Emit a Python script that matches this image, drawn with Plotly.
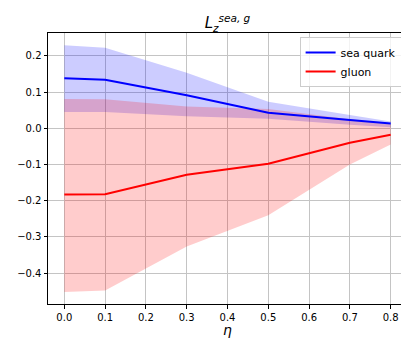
import plotly.graph_objects as go

# eta values where the curves were evaluated
eta = [0.0, 0.1, 0.3, 0.5, 0.7, 0.8]

# sea quark: central line plus band
sea_mid = [0.138, 0.134, 0.091, 0.043, 0.023, 0.013]
sea_hi = [0.229, 0.222, 0.153, 0.073, 0.037, 0.019]
sea_lo = [0.045, 0.045, 0.033, 0.026, 0.010, 0.003]

# gluon: central line plus band
glu_mid = [-0.183, -0.182, -0.128, -0.098, -0.040, -0.018]
glu_hi = [0.081, 0.080, 0.060, 0.053, 0.025, 0.012]
glu_lo = [-0.452, -0.448, -0.326, -0.240, -0.100, -0.045]

xticks = [0.0, 0.1, 0.2, 0.3, 0.4, 0.5, 0.6, 0.7, 0.8]
yticks = [-0.4, -0.3, -0.2, -0.1, 0.0, 0.1, 0.2]

fig = go.Figure()

# bands first, lines on top
fig.add_trace(go.Scatter(x=eta, y=sea_hi, mode="lines", line=dict(width=0),
                         showlegend=False, hoverinfo="skip"))
fig.add_trace(go.Scatter(x=eta, y=sea_lo, mode="lines", line=dict(width=0),
                         fill="tonexty", fillcolor="rgba(0,0,255,0.2)",
                         showlegend=False, hoverinfo="skip"))
fig.add_trace(go.Scatter(x=eta, y=glu_hi, mode="lines", line=dict(width=0),
                         showlegend=False, hoverinfo="skip"))
fig.add_trace(go.Scatter(x=eta, y=glu_lo, mode="lines", line=dict(width=0),
                         fill="tonexty", fillcolor="rgba(255,0,0,0.2)",
                         showlegend=False, hoverinfo="skip"))

fig.add_trace(go.Scatter(x=eta, y=sea_mid, mode="lines", name="sea quark",
                         line=dict(color="blue", width=2)))
fig.add_trace(go.Scatter(x=eta, y=glu_mid, mode="lines", name="gluon",
                         line=dict(color="red", width=2)))

axis_style = dict(showline=True, linecolor="black", linewidth=1, mirror=True,
                  ticks="outside", ticklen=3.5, tickcolor="black",
                  showgrid=True, gridcolor="#c4c4c4", gridwidth=1,
                  zeroline=False, tickfont=dict(size=10, color="black"))

fig.update_layout(
    width=409, height=338,
    margin=dict(l=39, r=9, t=25, b=42),
    paper_bgcolor="white", plot_bgcolor="white",
    font=dict(family="DejaVu Sans", color="black"),
    title=dict(text="<i>L</i><sub><i>z</i></sub><sup><i>sea, g</i></sup>",
               x=(39 + 400) / 2 / 409, xanchor="center", y=0.955, yanchor="middle",
               font=dict(size=15)),
    xaxis=dict(range=[-0.04, 0.84], tickvals=xticks,
               ticktext=[f"{v:.1f}" for v in xticks],
               title=dict(text="<i>η</i>", font=dict(size=14), standoff=0),
               **axis_style),
    yaxis=dict(range=[-0.485, 0.263], tickvals=yticks,
               ticktext=[f"{v:.1f}".replace("-", "\u2212") for v in yticks],
               **axis_style),
    legend=dict(x=0.985, y=0.985, xanchor="right", yanchor="top",
                traceorder="normal",
                bgcolor="rgba(255,255,255,0.8)", bordercolor="#cccccc", borderwidth=1,
                font=dict(size=11), itemwidth=30, tracegroupgap=0),
)

fig.write_html("out.html")
